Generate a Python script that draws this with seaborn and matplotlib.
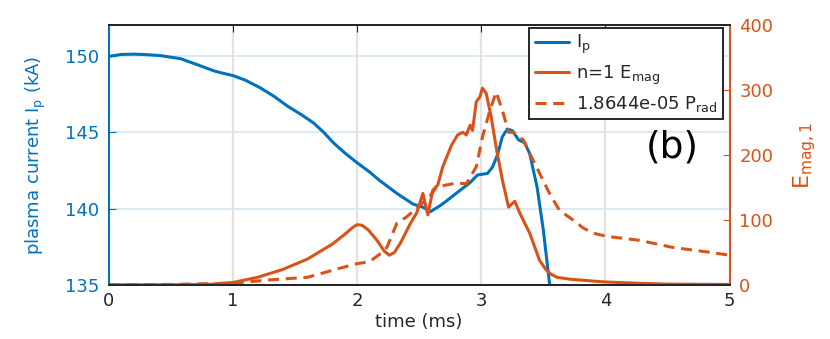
import pandas as pd
import seaborn as sns
import matplotlib.pyplot as plt

# plasma current Ip (kA)
ip_t = [0.0, 0.1, 0.2, 0.3, 0.42, 0.58, 0.7, 0.85, 0.92, 1.0, 1.1, 1.22, 1.33,
        1.44, 1.55, 1.65, 1.73, 1.81, 1.9, 2.0, 2.1, 2.18,
        2.32, 2.45, 2.53, 2.59, 2.67, 2.72, 2.83, 2.91, 2.97, 3.05, 3.09, 3.13,
        3.17, 3.21, 3.25, 3.30, 3.35, 3.39, 3.45, 3.50, 3.55, 3.60]
ip_val = [149.95, 150.08, 150.1, 150.07, 150.0, 149.8, 149.45, 149.0, 148.85,
          148.7, 148.4, 147.9, 147.35, 146.7, 146.15, 145.6, 145.0, 144.3,
          143.65, 143.0, 142.4, 141.85, 141.0, 140.3, 140.1, 139.8, 140.2, 140.5,
          141.2, 141.7, 142.2, 142.3, 142.7, 143.5, 144.7, 145.2, 145.1, 144.5,
          144.3, 143.6, 141.4, 138.6, 135.1, 134.2]

# n=1 magnetic energy
em_t = [0.0, 0.5, 0.8, 1.0, 1.2, 1.4, 1.6, 1.8, 1.9, 1.96, 2.0, 2.04, 2.09, 2.16,
        2.22, 2.26, 2.30, 2.35, 2.43, 2.48, 2.53, 2.57, 2.61, 2.65, 2.69, 2.76,
        2.81, 2.85, 2.88, 2.91, 2.93, 2.96, 2.99, 3.01, 3.04, 3.08, 3.12, 3.17,
        3.22, 3.27, 3.31, 3.39, 3.47, 3.52, 3.56, 3.61, 3.72, 3.98, 4.25, 4.5, 5.0]
em_val = [0.5, 0.5, 1, 4, 12, 24, 40, 63, 78, 88, 93, 92, 85, 69,
          52, 46, 50, 65, 95, 111, 141, 108, 146, 154, 182, 215,
          231, 235, 231, 246, 238, 282, 290, 303, 295, 259, 212, 162,
          120, 129, 111, 80, 38, 24, 17, 12, 9, 5, 3, 1.5, 1]

# scaled radiated power 1.8644e-05 Prad
pr_t = [0.0, 0.5, 1.0, 1.3, 1.6, 1.9, 2.0, 2.1, 2.2, 2.24, 2.32, 2.40, 2.5, 2.58,
        2.64, 2.72, 2.8, 2.88, 2.96, 3.01, 3.07, 3.12, 3.17, 3.22, 3.26, 3.34,
        3.39, 3.47, 3.55, 3.63, 3.74, 3.82, 3.9, 4.01, 4.27, 4.54, 4.82, 5.0]
pr_val = [0.5, 1, 3, 8, 12, 28, 33, 36, 50, 58, 95, 105, 122, 135,
          151, 154, 157, 156, 182, 228, 269, 297, 269, 235, 235, 223,
          203, 172, 141, 115, 100, 88, 80, 75, 69, 58, 51, 46]

blue = "#0072BD"
orange = "#D95319"

sns.set_style("white")
plt.rcParams["font.family"] = ["DejaVu Sans"]
plt.rcParams["mathtext.default"] = "regular"

fig = plt.figure(figsize=(8.3, 3.39), dpi=100)
ax = fig.add_axes([0.131, 0.159, 0.748, 0.767])
ax2 = ax.twinx()

df_ip = pd.DataFrame({"t": ip_t, "v": ip_val})
df_em = pd.DataFrame({"t": em_t, "v": em_val})
df_pr = pd.DataFrame({"t": pr_t, "v": pr_val})

sns.lineplot(data=df_ip, x="t", y="v", ax=ax, color=blue, lw=2.2,
             estimator=None, sort=False, label="I$_p$", legend=False)
sns.lineplot(data=df_em, x="t", y="v", ax=ax2, color=orange, lw=2.2,
             estimator=None, sort=False, label="n=1 E$_{mag}$", legend=False)
sns.lineplot(data=df_pr, x="t", y="v", ax=ax2, color=orange, lw=2.2,
             estimator=None, sort=False, label="1.8644e-05 P$_{rad}$", legend=False)
ax2.lines[1].set_dashes((3.6, 2.2))

ax.set_xlim(0, 5)
ax.set_ylim(135, 152)
ax.set_yticks([135, 140, 145, 150])
ax.set_xticks([0, 1, 2, 3, 4, 5])
ax2.set_ylim(0, 400)
ax2.set_yticks([0, 100, 200, 300, 400])

ax.grid(axis="x", color="#e3e3e3", lw=1.6)
ax.grid(axis="y", color="#d6e6f3", lw=1.2)
ax2.grid(False)

ax.set_xlabel("time (ms)", fontsize=13, labelpad=2)
ax.set_ylabel("plasma current I$_p$ (kA)", fontsize=13, color=blue, labelpad=12)
ax2.set_ylabel("E$_{mag,1}$", fontsize=16, color=orange, labelpad=13)

ax.tick_params(axis="x", direction="in", length=5, labelsize=13, colors="#262626",
               top=True, pad=5)
ax.tick_params(axis="y", direction="in", length=5, labelsize=13, colors=blue, pad=7)
ax2.tick_params(axis="y", direction="in", length=5, labelsize=13, colors=orange, pad=7)
ax2.tick_params(axis="x", top=False, bottom=False)

for a in (ax, ax2):
    a.spines["top"].set_color("#262626")
    a.spines["bottom"].set_color("#262626")
    a.spines["left"].set_color(blue)
    a.spines["right"].set_color(orange)
    for s in a.spines.values():
        s.set_linewidth(1.4)

handles = ax.get_lines()[:1] + ax2.get_lines()[:2]
leg = ax2.legend(handles=handles, labels=[h.get_label() for h in handles],
                 loc="upper right", bbox_to_anchor=(0.99, 0.99), fontsize=13,
                 frameon=True, fancybox=False, edgecolor="#262626", framealpha=1,
                 handlelength=1.9, handletextpad=0.4, borderpad=0.3,
                 labelspacing=0.4, borderaxespad=0)
leg.get_frame().set_linewidth(1.4)

ax.text(0.865, 0.53, "(b)", transform=ax.transAxes, fontsize=27,
        ha="left", va="center", color="black")

fig.savefig("out.png", dpi=100)
